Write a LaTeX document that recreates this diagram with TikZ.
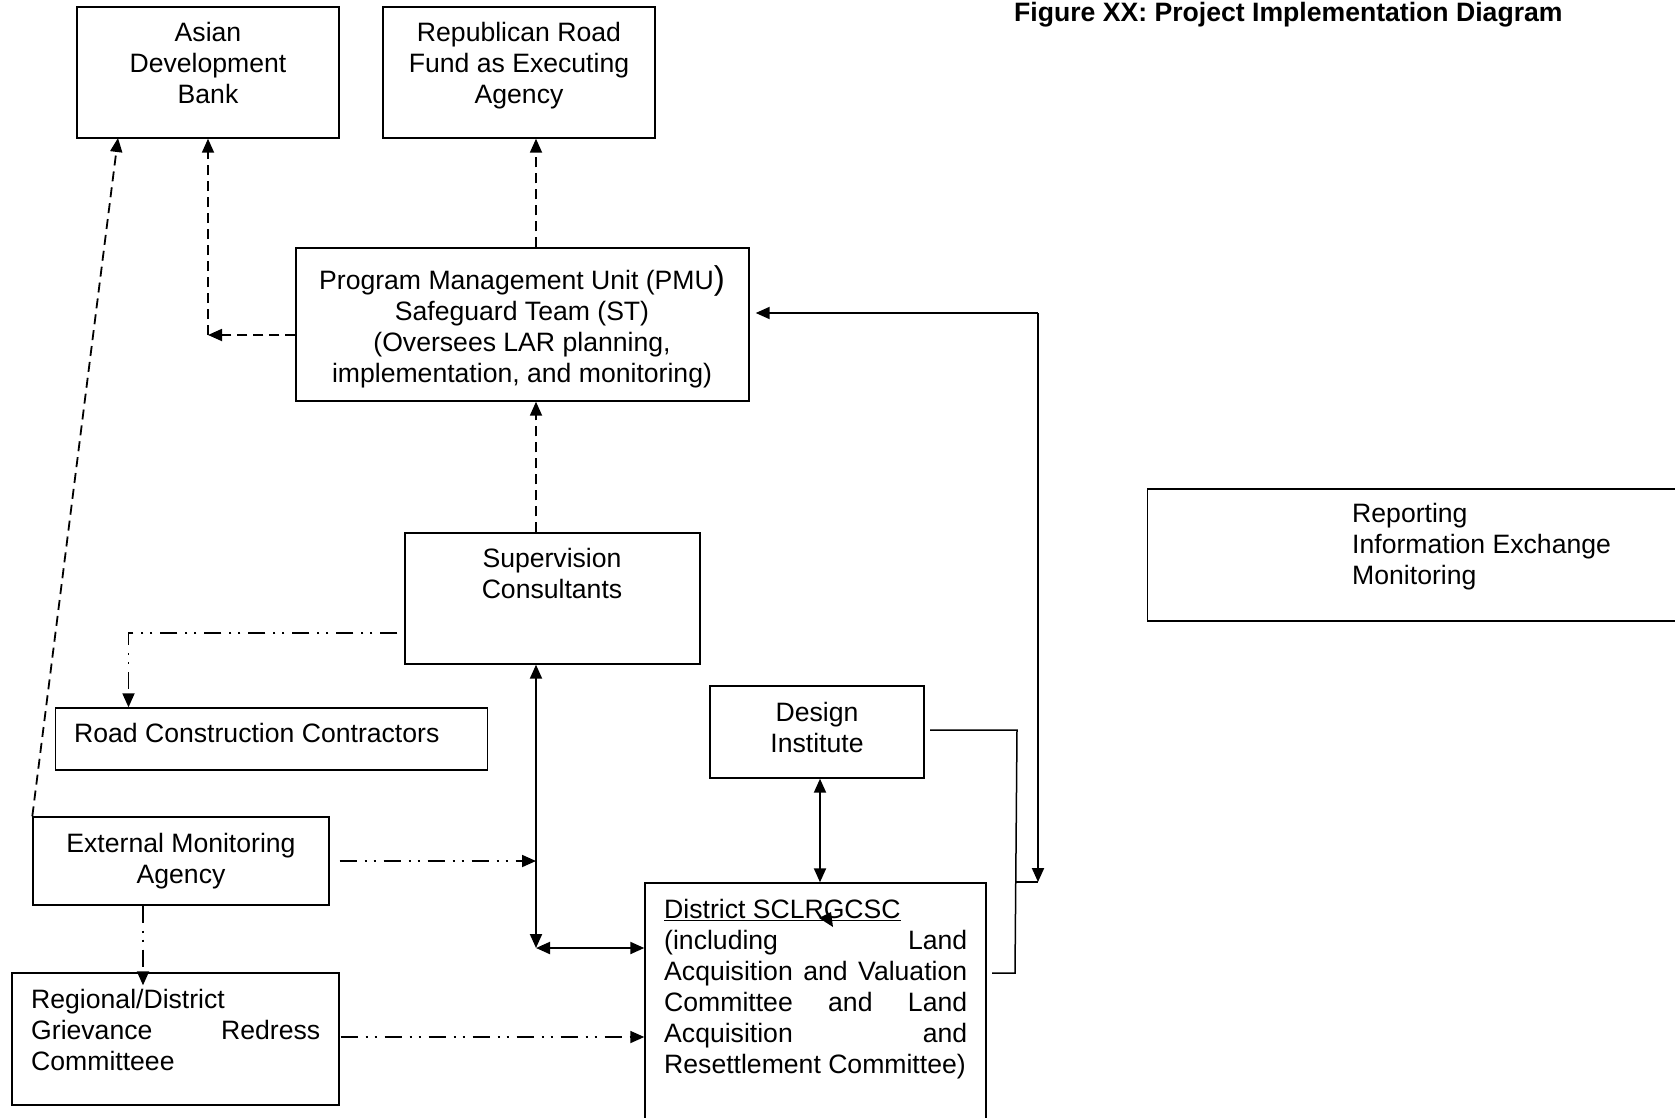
\documentclass[tikz,border=0pt]{standalone}
\usepackage{fontspec}
\setmainfont{Liberation Sans}
\usetikzlibrary{arrows.meta,calc}
\begin{document}
\begin{tikzpicture}[x=1pt,y=-1pt,
  box/.style={draw, line width=1.4pt, rectangle, inner sep=0pt},
  txt/.style={inner sep=0pt, align=center, font=\fontsize{26.6pt}{31pt}\selectfont},
  ltxt/.style={inner sep=0pt, align=left, font=\fontsize{26.6pt}{31pt}\selectfont},
  dsh/.style={line width=1.8pt, dash pattern=on 10pt off 6pt, -{Triangle[length=14pt,width=12pt]}},
  ddot/.style={line width=1.8pt, dash pattern=on 17pt off 8pt on 2pt off 7pt on 2pt off 8pt, -{Triangle[length=14pt,width=12pt]}},
  sol/.style={line width=2pt},
  thin/.style={line width=1.5pt},
  tipA/.style={-{Triangle[length=14pt,width=12pt]}},
  tipB/.style={{Triangle[length=14pt,width=12pt]}-{Triangle[length=14pt,width=12pt]}}
]
\useasboundingbox (0,0) rectangle (1675,1117);

% boxes
\node[box, minimum width=262pt, minimum height=131pt] (adb) at (208,72.5) {};
\node[box, minimum width=272pt, minimum height=131pt] (rrf) at (519,72.5) {};
\node[box, minimum width=453pt, minimum height=153pt] (pmu) at (522.5,324.5) {};
\node[box, minimum width=295pt, minimum height=131pt] (sc) at (552.5,598.5) {};
\node[box, minimum width=432pt, minimum height=62pt] (rcc) at (271.5,739) {};
\node[box, minimum width=214pt, minimum height=92pt] (di) at (817,732) {};
\node[box, minimum width=296pt, minimum height=88pt] (ema) at (181,861) {};
\node[box, minimum width=327pt, minimum height=132pt] (grc) at (175.5,1039) {};
\node[box, minimum width=341pt, minimum height=247pt] (dst) at (815.5,1006.5) {};
\node[box, minimum width=542.5pt, minimum height=132pt] (leg) at (1418.75,555) {};

% texts
\node[txt] (adbT) at (208,63) {Asian\\Development\\Bank};
\node[txt] (rrfT) at (519,66) {Republican Road\\Fund as Executing\\Agency};
\node[txt] (pmuT) at (522,327) {Program Management Unit (PMU{\fontsize{33pt}{31pt}\selectfont)}\\Safeguard Team (ST)\\(Oversees LAR planning,\\implementation, and monitoring)};
\node[txt] (scT) at (552,573) {Supervision\\Consultants};
\node[ltxt, anchor=west] (rccT) at (74,733) {Road Construction Contractors};
\node[txt] (diT) at (817,727) {Design\\Institute};
\node[txt] (emaT) at (181,861) {External Monitoring\\Agency};
\node[ltxt, anchor=west] (grcT) at (31,1030) {Regional/District\\\hbox to 289pt{Grievance\hfill Redress}\\Committeee};
\node[ltxt, anchor=west] (dstT) at (664,989) {\underline{District SCLRGCSC}\\\hbox to 303pt{(including\hfill Land}\\\hbox to 303pt{Acquisition\hfill and\hfill Valuation}\\\hbox to 303pt{Committee\hfill and\hfill Land}\\\hbox to 303pt{Acquisition\hfill and}\\Resettlement Committee)};
\node[ltxt, anchor=west] (legT) at (1352,547) {Reporting\\Information Exchange\\Monitoring};
\node[inner sep=0pt, anchor=base west, font=\bfseries\fontsize{26.6pt}{31pt}\selectfont] (title) at (1014,21) {Figure XX: Project Implementation Diagram};

% helper coordinates
\coordinate (xa) at (536,0);
\coordinate (c1) at (208,335);
\coordinate (a1) at (118,138);
\coordinate (k1) at (128.5,633);
\coordinate (k2) at (143,0);
\coordinate (j1) at (536,948);
\coordinate (xd) at (820,0);
\coordinate (r1) at (1038,313);
\coordinate (r2) at (1038,882);
\coordinate (d1) at (930,730);
\coordinate (d2) at (1017,730);
\coordinate (d3) at (1015,973);
\coordinate (d4) at (992,973);
\coordinate (d5) at (1015,882);

% dashed connectors
\draw[dsh] (ema.north west) -- (a1);
\draw[dsh] (pmu.west |- c1) -- (c1);
\draw[dsh] (c1) -- (adb.south);
\draw[dsh] (pmu.north -| xa) -- (rrf.south -| xa);
\draw[dsh] (sc.north -| xa) -- (pmu.south -| xa);

% dash-dot-dot connectors
\draw[ddot] ([xshift=-7pt]sc.west |- k1) -- (k1) -- (k1 |- rcc.north);
\draw[ddot] ([xshift=10pt]ema.east) -- (xa |- ema.east);
\draw[ddot] (k2 |- ema.south) -- ([yshift=-13pt]k2 |- grc.north);
\draw[ddot] ([xshift=1pt]grc.east |- 0,1037) -- (dst.west |- 0,1037);

% solid connectors
\draw[sol, tipB] (xa |- sc.south) -- (j1);
\draw[sol, tipB] (j1) -- (j1 -| dst.west);
\draw[sol, tipB] (xd |- di.south) -- (xd |- dst.north);
\draw[sol, tipA] (r1) -- ([xshift=6pt]pmu.east |- r1);
\draw[sol, tipA] (r1) -- (r2);
\draw[line width=2.8pt] (1038,795) -- (1038,872);
\draw[thin] (d1) -- (d2) -- (d3) -- (d4);
\draw[thin] (d5) -- (r2);
\fill (819,918) -- (831,912) -- (833,927) -- cycle;
\end{tikzpicture}
\end{document}
